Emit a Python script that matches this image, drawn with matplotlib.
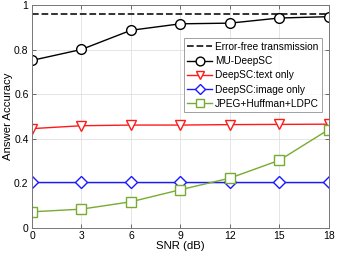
import matplotlib
matplotlib.use("Agg")
import matplotlib.pyplot as plt

snr = [0, 3, 6, 9, 12, 15, 18]
error_free = [0.96] * 7
mu_deepsc = [0.752, 0.801, 0.887, 0.916, 0.919, 0.942, 0.948]
text_only = [0.446, 0.459, 0.462, 0.462, 0.464, 0.465, 0.466]
image_only = [0.206] * 7
jpeg = [0.073, 0.085, 0.118, 0.172, 0.224, 0.304, 0.442]

plt.rcParams['font.family'] = ['Liberation Sans', 'DejaVu Sans']
fig = plt.figure(figsize=(3.38, 2.54), dpi=100)
ax = fig.add_axes([0.0947, 0.102, 0.878, 0.878])

ax.plot(snr, error_free, '--', color='#222222', lw=1.3, label='Error-free transmission')
ax.plot(snr, mu_deepsc, '-o', color='black', lw=1.0, ms=7, mfc='white', mew=1.0, label='MU-DeepSC')
ax.plot(snr, text_only, '-v', color='#ff1a1a', lw=1.0, ms=7, mfc='white', mew=1.0, label='DeepSC:text only')
ax.plot(snr, image_only, '-D', color='#1a1aff', lw=1.0, ms=6, mfc='white', mew=1.0, label='DeepSC:image only')
ax.plot(snr, jpeg, '-s', color='#77ac30', lw=1.0, ms=6.5, mfc='white', mew=1.0, label='JPEG+Huffman+LDPC')

ax.set_xlim(0, 18)
ax.set_ylim(0, 1)
ax.set_xticks(snr)
ax.set_yticks([0, 0.2, 0.4, 0.6, 0.8, 1])
ax.set_yticklabels(['0', '0.2', '0.4', '0.6', '0.8', '1'])
ax.grid(True, color='#e0e0e0', lw=0.6)
ax.set_axisbelow(True)
ax.tick_params(direction='in', length=3, width=0.6, color='#555555', labelsize=7.5, pad=2.5, top=True, right=True)
ax.tick_params(axis='x', pad=2)
for s in ax.spines.values():
    s.set_color('#777777')
    s.set_linewidth(0.7)
ax.set_xlabel('SNR (dB)', fontsize=8.2, labelpad=0)
ax.set_ylabel('Answer Accuracy', fontsize=8.2, labelpad=0.5)

leg = ax.legend(loc='upper right', bbox_to_anchor=(0.985, 0.86), fontsize=7.3, frameon=True,
                fancybox=False, edgecolor='#888888', handlelength=2.4, handletextpad=0.3,
                labelspacing=0.42, borderpad=0.35, borderaxespad=0.2, markerscale=0.9)
leg.get_frame().set_linewidth(0.7)

fig.savefig('out.png', dpi=100)
